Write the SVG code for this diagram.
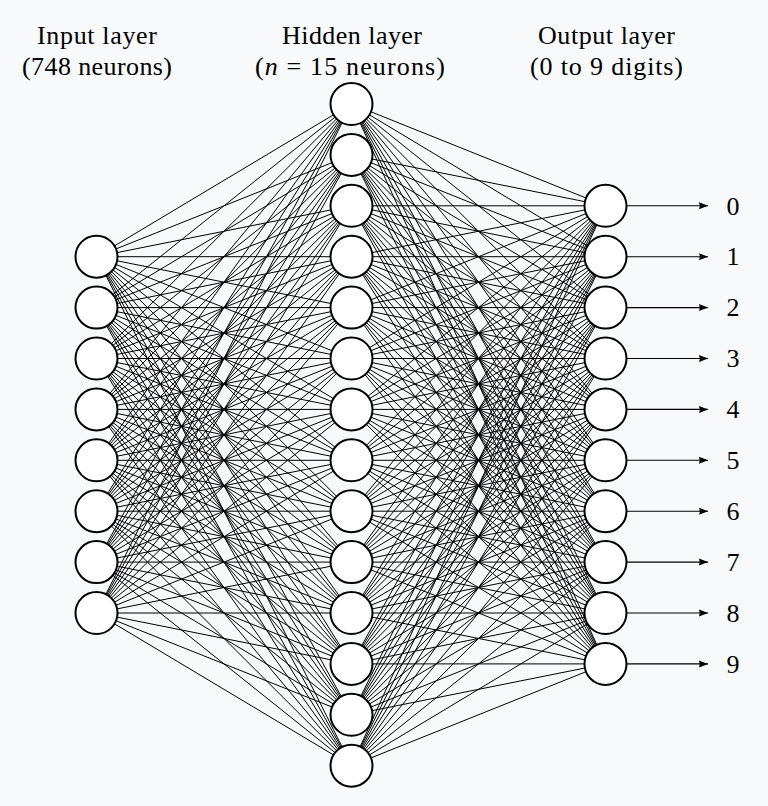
<svg xmlns="http://www.w3.org/2000/svg" width="768" height="806" viewBox="0 0 768 806">
<style>
.bg{fill:#f8f9fb}
.n{fill:#fff;stroke:#000;stroke-width:2}
.c{fill:none;stroke:#000;stroke-width:1}
.a{fill:none;stroke:#000;stroke-width:1.1}
.t{font-family:"Liberation Serif","DejaVu Serif",serif;font-size:26px;fill:#000;text-anchor:middle}
.d{font-family:"Liberation Serif","DejaVu Serif",serif;font-size:26px;fill:#000;text-anchor:middle}
</style>
<defs>
<marker id="ah" markerUnits="userSpaceOnUse" markerWidth="12" markerHeight="10" refX="9" refY="4" orient="auto">
<path d="M0 0.5L9 4L0 7.5Q1.5 4 0 0.5z" fill="#000"/>
</marker>
</defs>
<rect class="bg" x="0" y="0" width="768" height="806"/>
<g id="labels">
<text class="t" x="97" y="44" textLength="120" lengthAdjust="spacing">Input layer</text>
<text class="t" x="97" y="75" textLength="150" lengthAdjust="spacing">(748 neurons)</text>
<text class="t" x="352" y="44" textLength="140" lengthAdjust="spacing">Hidden layer</text>
<text class="t" x="350" y="75" textLength="190" lengthAdjust="spacing">(<tspan font-style="italic">n</tspan> = 15 neurons)</text>
<text class="t" x="606.5" y="44" textLength="137" lengthAdjust="spacing">Output layer</text>
<text class="t" x="606.5" y="75" textLength="153" lengthAdjust="spacing">(0 to 9 digits)</text>
</g>
<g id="connectors">
<path class="c" d="M96.5 256.7L351.5 104M96.5 256.7L351.5 154.9M96.5 256.7L351.5 205.8M96.5 256.7L351.5 256.7M96.5 256.7L351.5 307.6M96.5 256.7L351.5 358.5M96.5 256.7L351.5 409.4M96.5 256.7L351.5 460.3M96.5 256.7L351.5 511.2M96.5 256.7L351.5 562.1M96.5 256.7L351.5 613M96.5 256.7L351.5 663.9M96.5 256.7L351.5 714.8M96.5 256.7L351.5 765.7"/>
<path class="c" d="M96.5 307.6L351.5 104M96.5 307.6L351.5 154.9M96.5 307.6L351.5 205.8M96.5 307.6L351.5 256.7M96.5 307.6L351.5 307.6M96.5 307.6L351.5 358.5M96.5 307.6L351.5 409.4M96.5 307.6L351.5 460.3M96.5 307.6L351.5 511.2M96.5 307.6L351.5 562.1M96.5 307.6L351.5 613M96.5 307.6L351.5 663.9M96.5 307.6L351.5 714.8M96.5 307.6L351.5 765.7"/>
<path class="c" d="M96.5 358.5L351.5 104M96.5 358.5L351.5 154.9M96.5 358.5L351.5 205.8M96.5 358.5L351.5 256.7M96.5 358.5L351.5 307.6M96.5 358.5L351.5 358.5M96.5 358.5L351.5 409.4M96.5 358.5L351.5 460.3M96.5 358.5L351.5 511.2M96.5 358.5L351.5 562.1M96.5 358.5L351.5 613M96.5 358.5L351.5 663.9M96.5 358.5L351.5 714.8M96.5 358.5L351.5 765.7"/>
<path class="c" d="M96.5 409.4L351.5 104M96.5 409.4L351.5 154.9M96.5 409.4L351.5 205.8M96.5 409.4L351.5 256.7M96.5 409.4L351.5 307.6M96.5 409.4L351.5 358.5M96.5 409.4L351.5 409.4M96.5 409.4L351.5 460.3M96.5 409.4L351.5 511.2M96.5 409.4L351.5 562.1M96.5 409.4L351.5 613M96.5 409.4L351.5 663.9M96.5 409.4L351.5 714.8M96.5 409.4L351.5 765.7"/>
<path class="c" d="M96.5 460.3L351.5 104M96.5 460.3L351.5 154.9M96.5 460.3L351.5 205.8M96.5 460.3L351.5 256.7M96.5 460.3L351.5 307.6M96.5 460.3L351.5 358.5M96.5 460.3L351.5 409.4M96.5 460.3L351.5 460.3M96.5 460.3L351.5 511.2M96.5 460.3L351.5 562.1M96.5 460.3L351.5 613M96.5 460.3L351.5 663.9M96.5 460.3L351.5 714.8M96.5 460.3L351.5 765.7"/>
<path class="c" d="M96.5 511.2L351.5 104M96.5 511.2L351.5 154.9M96.5 511.2L351.5 205.8M96.5 511.2L351.5 256.7M96.5 511.2L351.5 307.6M96.5 511.2L351.5 358.5M96.5 511.2L351.5 409.4M96.5 511.2L351.5 460.3M96.5 511.2L351.5 511.2M96.5 511.2L351.5 562.1M96.5 511.2L351.5 613M96.5 511.2L351.5 663.9M96.5 511.2L351.5 714.8M96.5 511.2L351.5 765.7"/>
<path class="c" d="M96.5 562.1L351.5 104M96.5 562.1L351.5 154.9M96.5 562.1L351.5 205.8M96.5 562.1L351.5 256.7M96.5 562.1L351.5 307.6M96.5 562.1L351.5 358.5M96.5 562.1L351.5 409.4M96.5 562.1L351.5 460.3M96.5 562.1L351.5 511.2M96.5 562.1L351.5 562.1M96.5 562.1L351.5 613M96.5 562.1L351.5 663.9M96.5 562.1L351.5 714.8M96.5 562.1L351.5 765.7"/>
<path class="c" d="M96.5 613L351.5 104M96.5 613L351.5 154.9M96.5 613L351.5 205.8M96.5 613L351.5 256.7M96.5 613L351.5 307.6M96.5 613L351.5 358.5M96.5 613L351.5 409.4M96.5 613L351.5 460.3M96.5 613L351.5 511.2M96.5 613L351.5 562.1M96.5 613L351.5 613M96.5 613L351.5 663.9M96.5 613L351.5 714.8M96.5 613L351.5 765.7"/>
<path class="c" d="M605.5 205.8L351.5 104M605.5 205.8L351.5 154.9M605.5 205.8L351.5 205.8M605.5 205.8L351.5 256.7M605.5 205.8L351.5 307.6M605.5 205.8L351.5 358.5M605.5 205.8L351.5 409.4M605.5 205.8L351.5 460.3M605.5 205.8L351.5 511.2M605.5 205.8L351.5 562.1M605.5 205.8L351.5 613M605.5 205.8L351.5 663.9M605.5 205.8L351.5 714.8M605.5 205.8L351.5 765.7"/>
<path class="c" d="M605.5 256.7L351.5 104M605.5 256.7L351.5 154.9M605.5 256.7L351.5 205.8M605.5 256.7L351.5 256.7M605.5 256.7L351.5 307.6M605.5 256.7L351.5 358.5M605.5 256.7L351.5 409.4M605.5 256.7L351.5 460.3M605.5 256.7L351.5 511.2M605.5 256.7L351.5 562.1M605.5 256.7L351.5 613M605.5 256.7L351.5 663.9M605.5 256.7L351.5 714.8M605.5 256.7L351.5 765.7"/>
<path class="c" d="M605.5 307.6L351.5 104M605.5 307.6L351.5 154.9M605.5 307.6L351.5 205.8M605.5 307.6L351.5 256.7M605.5 307.6L351.5 307.6M605.5 307.6L351.5 358.5M605.5 307.6L351.5 409.4M605.5 307.6L351.5 460.3M605.5 307.6L351.5 511.2M605.5 307.6L351.5 562.1M605.5 307.6L351.5 613M605.5 307.6L351.5 663.9M605.5 307.6L351.5 714.8M605.5 307.6L351.5 765.7"/>
<path class="c" d="M605.5 358.5L351.5 104M605.5 358.5L351.5 154.9M605.5 358.5L351.5 205.8M605.5 358.5L351.5 256.7M605.5 358.5L351.5 307.6M605.5 358.5L351.5 358.5M605.5 358.5L351.5 409.4M605.5 358.5L351.5 460.3M605.5 358.5L351.5 511.2M605.5 358.5L351.5 562.1M605.5 358.5L351.5 613M605.5 358.5L351.5 663.9M605.5 358.5L351.5 714.8M605.5 358.5L351.5 765.7"/>
<path class="c" d="M605.5 409.4L351.5 104M605.5 409.4L351.5 154.9M605.5 409.4L351.5 205.8M605.5 409.4L351.5 256.7M605.5 409.4L351.5 307.6M605.5 409.4L351.5 358.5M605.5 409.4L351.5 409.4M605.5 409.4L351.5 460.3M605.5 409.4L351.5 511.2M605.5 409.4L351.5 562.1M605.5 409.4L351.5 613M605.5 409.4L351.5 663.9M605.5 409.4L351.5 714.8M605.5 409.4L351.5 765.7"/>
<path class="c" d="M605.5 460.3L351.5 104M605.5 460.3L351.5 154.9M605.5 460.3L351.5 205.8M605.5 460.3L351.5 256.7M605.5 460.3L351.5 307.6M605.5 460.3L351.5 358.5M605.5 460.3L351.5 409.4M605.5 460.3L351.5 460.3M605.5 460.3L351.5 511.2M605.5 460.3L351.5 562.1M605.5 460.3L351.5 613M605.5 460.3L351.5 663.9M605.5 460.3L351.5 714.8M605.5 460.3L351.5 765.7"/>
<path class="c" d="M605.5 511.2L351.5 104M605.5 511.2L351.5 154.9M605.5 511.2L351.5 205.8M605.5 511.2L351.5 256.7M605.5 511.2L351.5 307.6M605.5 511.2L351.5 358.5M605.5 511.2L351.5 409.4M605.5 511.2L351.5 460.3M605.5 511.2L351.5 511.2M605.5 511.2L351.5 562.1M605.5 511.2L351.5 613M605.5 511.2L351.5 663.9M605.5 511.2L351.5 714.8M605.5 511.2L351.5 765.7"/>
<path class="c" d="M605.5 562.1L351.5 104M605.5 562.1L351.5 154.9M605.5 562.1L351.5 205.8M605.5 562.1L351.5 256.7M605.5 562.1L351.5 307.6M605.5 562.1L351.5 358.5M605.5 562.1L351.5 409.4M605.5 562.1L351.5 460.3M605.5 562.1L351.5 511.2M605.5 562.1L351.5 562.1M605.5 562.1L351.5 613M605.5 562.1L351.5 663.9M605.5 562.1L351.5 714.8M605.5 562.1L351.5 765.7"/>
<path class="c" d="M605.5 613L351.5 104M605.5 613L351.5 154.9M605.5 613L351.5 205.8M605.5 613L351.5 256.7M605.5 613L351.5 307.6M605.5 613L351.5 358.5M605.5 613L351.5 409.4M605.5 613L351.5 460.3M605.5 613L351.5 511.2M605.5 613L351.5 562.1M605.5 613L351.5 613M605.5 613L351.5 663.9M605.5 613L351.5 714.8M605.5 613L351.5 765.7"/>
<path class="c" d="M605.5 663.9L351.5 104M605.5 663.9L351.5 154.9M605.5 663.9L351.5 205.8M605.5 663.9L351.5 256.7M605.5 663.9L351.5 307.6M605.5 663.9L351.5 358.5M605.5 663.9L351.5 409.4M605.5 663.9L351.5 460.3M605.5 663.9L351.5 511.2M605.5 663.9L351.5 562.1M605.5 663.9L351.5 613M605.5 663.9L351.5 663.9M605.5 663.9L351.5 714.8M605.5 663.9L351.5 765.7"/>
<line class="a" x1="627" y1="205.8" x2="708" y2="205.8" marker-end="url(#ah)"/>
<line class="a" x1="627" y1="256.7" x2="708" y2="256.7" marker-end="url(#ah)"/>
<line class="a" x1="627" y1="307.6" x2="708" y2="307.6" marker-end="url(#ah)"/>
<line class="a" x1="627" y1="358.5" x2="708" y2="358.5" marker-end="url(#ah)"/>
<line class="a" x1="627" y1="409.4" x2="708" y2="409.4" marker-end="url(#ah)"/>
<line class="a" x1="627" y1="460.3" x2="708" y2="460.3" marker-end="url(#ah)"/>
<line class="a" x1="627" y1="511.2" x2="708" y2="511.2" marker-end="url(#ah)"/>
<line class="a" x1="627" y1="562.1" x2="708" y2="562.1" marker-end="url(#ah)"/>
<line class="a" x1="627" y1="613" x2="708" y2="613" marker-end="url(#ah)"/>
<line class="a" x1="627" y1="663.9" x2="708" y2="663.9" marker-end="url(#ah)"/>
</g>
<g id="input-layer">
<circle id="in0" class="n" cx="96.5" cy="256.7" r="21"/>
<circle id="in1" class="n" cx="96.5" cy="307.6" r="21"/>
<circle id="in2" class="n" cx="96.5" cy="358.5" r="21"/>
<circle id="in3" class="n" cx="96.5" cy="409.4" r="21"/>
<circle id="in4" class="n" cx="96.5" cy="460.3" r="21"/>
<circle id="in5" class="n" cx="96.5" cy="511.2" r="21"/>
<circle id="in6" class="n" cx="96.5" cy="562.1" r="21"/>
<circle id="in7" class="n" cx="96.5" cy="613" r="21"/>
</g>
<g id="hidden-layer">
<circle id="h0" class="n" cx="351.5" cy="104" r="21"/>
<circle id="h1" class="n" cx="351.5" cy="154.9" r="21"/>
<circle id="h2" class="n" cx="351.5" cy="205.8" r="21"/>
<circle id="h3" class="n" cx="351.5" cy="256.7" r="21"/>
<circle id="h4" class="n" cx="351.5" cy="307.6" r="21"/>
<circle id="h5" class="n" cx="351.5" cy="358.5" r="21"/>
<circle id="h6" class="n" cx="351.5" cy="409.4" r="21"/>
<circle id="h7" class="n" cx="351.5" cy="460.3" r="21"/>
<circle id="h8" class="n" cx="351.5" cy="511.2" r="21"/>
<circle id="h9" class="n" cx="351.5" cy="562.1" r="21"/>
<circle id="h10" class="n" cx="351.5" cy="613" r="21"/>
<circle id="h11" class="n" cx="351.5" cy="663.9" r="21"/>
<circle id="h12" class="n" cx="351.5" cy="714.8" r="21"/>
<circle id="h13" class="n" cx="351.5" cy="765.7" r="21"/>
</g>
<g id="output-layer">
<circle id="o0" class="n" cx="605.5" cy="205.8" r="21"/>
<circle id="o1" class="n" cx="605.5" cy="256.7" r="21"/>
<circle id="o2" class="n" cx="605.5" cy="307.6" r="21"/>
<circle id="o3" class="n" cx="605.5" cy="358.5" r="21"/>
<circle id="o4" class="n" cx="605.5" cy="409.4" r="21"/>
<circle id="o5" class="n" cx="605.5" cy="460.3" r="21"/>
<circle id="o6" class="n" cx="605.5" cy="511.2" r="21"/>
<circle id="o7" class="n" cx="605.5" cy="562.1" r="21"/>
<circle id="o8" class="n" cx="605.5" cy="613" r="21"/>
<circle id="o9" class="n" cx="605.5" cy="663.9" r="21"/>
</g>
<g id="digit-labels">
<text class="d" x="733" y="214.5">0</text>
<text class="d" x="733" y="265.4">1</text>
<text class="d" x="733" y="316.3">2</text>
<text class="d" x="733" y="367.2">3</text>
<text class="d" x="733" y="418.1">4</text>
<text class="d" x="733" y="469">5</text>
<text class="d" x="733" y="519.9">6</text>
<text class="d" x="733" y="570.8">7</text>
<text class="d" x="733" y="621.7">8</text>
<text class="d" x="733" y="672.6">9</text>
</g>
</svg>
